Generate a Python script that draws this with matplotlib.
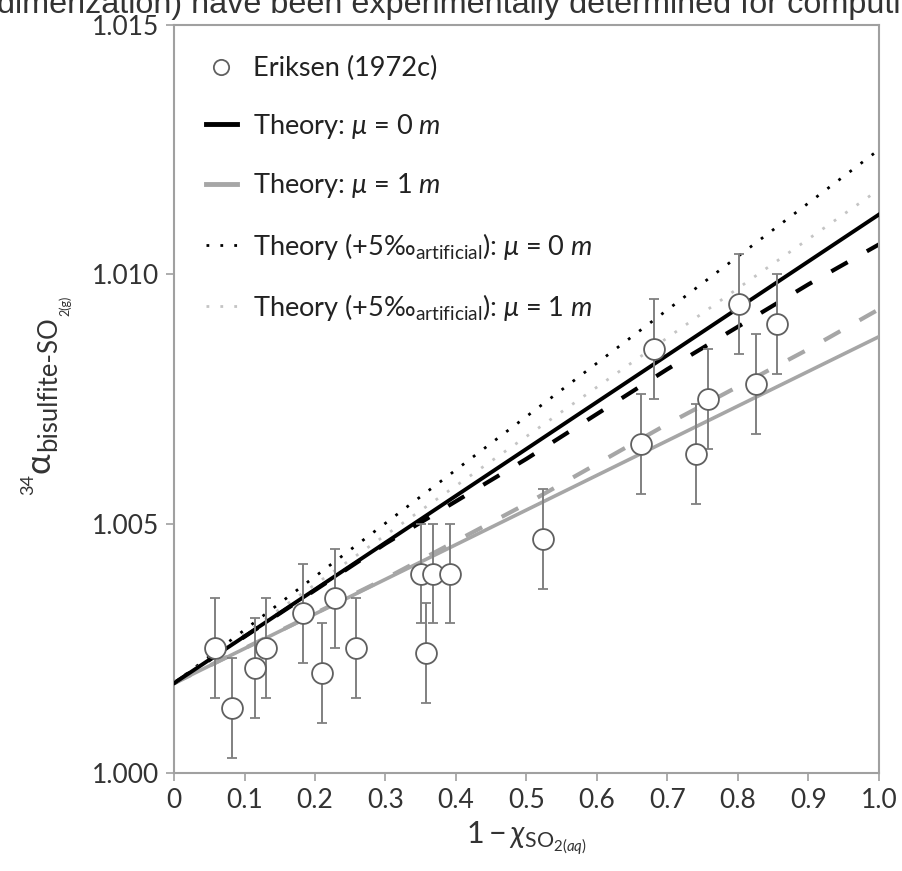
import matplotlib
matplotlib.use("Agg")
import matplotlib.pyplot as plt
from matplotlib.lines import Line2D

plt.rcParams['font.family'] = ['Lato', 'DejaVu Sans']
plt.rcParams['mathtext.fontset'] = 'custom'
plt.rcParams['mathtext.rm'] = 'Lato'
plt.rcParams['mathtext.it'] = 'Lato:italic'
plt.rcParams['mathtext.bf'] = 'Lato:bold'

# Eriksen (1972c) measurements, 1 - x_SO2(aq) vs 34-alpha
obs_x = [0.058, 0.082, 0.115, 0.130, 0.183, 0.210, 0.228, 0.258,
         0.351, 0.357, 0.367, 0.391, 0.524, 0.662, 0.681, 0.740,
         0.758, 0.802, 0.826, 0.856]
obs_y = [1.0025, 1.0013, 1.0021, 1.0025, 1.0032, 1.0020, 1.0035, 1.0025,
         1.0040, 1.0024, 1.0040, 1.0040, 1.0047, 1.0066, 1.0085, 1.0064,
         1.0075, 1.0094, 1.0078, 1.0090]
obs_err = [0.001] * len(obs_x)

# theory curves
line_x = [0.0, 1.0]
theory_mu0 = [1.0018, 1.0112]
theory_mu1 = [1.0018, 1.00875]
art_mu0 = [1.0018, 1.0125]
art_mu1 = [1.0018, 1.0117]

dash_x = [0.0, 0.3, 0.5, 0.7, 0.9, 1.0]
dash_mu0 = [1.0018, 1.0046, 1.0063, 1.0081, 1.0098, 1.0106]
dash_mu1 = [1.0018, 1.0039, 1.0054, 1.0070, 1.0085, 1.0093]

xticks = [0, 0.1, 0.2, 0.3, 0.4, 0.5, 0.6, 0.7, 0.8, 0.9, 1.0]
xtick_labels = ['0', '0.1', '0.2', '0.3', '0.4', '0.5', '0.6', '0.7', '0.8', '0.9', '1.0']
yticks = [1.000, 1.005, 1.010, 1.015]
ytick_labels = ['1.000', '1.005', '1.010', '1.015']

# y label pieces: text, font size, baseline x (px from left)
ylab_parts = [('34', 13, 33), ('α', 25, 50), ('bisulfite-SO', 18.5, 56), ('2(g)', 9, 69)]

black = '#000000'
grey = '#a6a6a6'
light = '#c4c4c4'
axis_grey = '#a0a0a0'
text_col = '#333333'

W, H = 903, 871
fig = plt.figure(figsize=(W / 100, H / 100), dpi=100)
ax = fig.add_axes([0.1927, 0.1125, 0.7807, 0.8588])

# leftover line of body text above the chart
fig.text(-0.003, 0.985, 'dimerization) have been experimentally determined for computi',
         family='Liberation Sans', fontsize=23.3, color=text_col, va='baseline', ha='left')

ax.plot(line_x, art_mu0, color=black, lw=2.0, linestyle=(0, (1, 4)), zorder=2)
ax.plot(line_x, art_mu1, color=light, lw=2.0, linestyle=(0, (1, 4)), zorder=2)
ax.plot(dash_x, dash_mu1, color=grey, lw=3.0, linestyle=(0, (4.5, 5.3)), zorder=2)
ax.plot(dash_x, dash_mu0, color=black, lw=3.0, linestyle=(0, (4.5, 5.3)), zorder=2)
ax.plot(line_x, theory_mu1, color=grey, lw=2.6, zorder=3)
ax.plot(line_x, theory_mu0, color=black, lw=2.8, zorder=3)

ax.errorbar(obs_x, obs_y, yerr=obs_err, fmt='o', ms=15, mfc='white', mec='#606060',
            mew=1.3, ecolor='#808080', elinewidth=1.4, capsize=3.5, capthick=1.4, zorder=4)

ax.set_xlim(0, 1.0)
ax.set_ylim(1.000, 1.015)
ax.set_xticks(xticks)
ax.set_xticklabels(xtick_labels)
ax.set_yticks(yticks)
ax.set_yticklabels(ytick_labels)
ax.tick_params(direction='out', length=6, width=1.2, color=axis_grey,
               labelsize=19, labelcolor=text_col, pad=5)
for s in ax.spines.values():
    s.set_color(axis_grey)
    s.set_linewidth(1.5)

ax.set_xlabel(r'$1 - \chi_{\mathrm{SO}_{2(aq)}}$', fontsize=22, color=text_col, labelpad=4)

# y label built from rotated pieces so the subscript keeps its own size
fig.canvas.draw()
renderer = fig.canvas.get_renderer()
y_start = H - 495
for txt, size, xb in ylab_parts:
    t = fig.text(xb / W, y_start / H, txt, fontsize=size, color=text_col, rotation=90,
                 rotation_mode='anchor', ha='left', va='baseline')
    y_start = t.get_window_extent(renderer).y1 + 1

handles = [
    Line2D([], [], marker='o', ls='none', ms=11, mfc='white', mec='#606060', mew=1.3),
    Line2D([], [], color=black, lw=3.5),
    Line2D([], [], color=grey, lw=3.5),
    Line2D([], [], color=black, lw=2.0, linestyle=(0, (1, 4))),
    Line2D([], [], color=light, lw=2.0, linestyle=(0, (1, 4))),
]
labels = [
    'Eriksen (1972c)',
    r'Theory: $\mu$ = 0 $m$',
    r'Theory: $\mu$ = 1 $m$',
    r'Theory (+5‰$_{\mathrm{artificial}}$): $\mu$ = 0 $m$',
    r'Theory (+5‰$_{\mathrm{artificial}}$): $\mu$ = 1 $m$',
]
ax.legend(handles, labels, loc='upper left', bbox_to_anchor=(0.045, 0.958),
          frameon=False, fontsize=19.5, handlelength=1.15, handletextpad=0.6,
          labelspacing=1.12, borderpad=0, borderaxespad=0, labelcolor='#222222')

fig.savefig('out.png', dpi=100)
